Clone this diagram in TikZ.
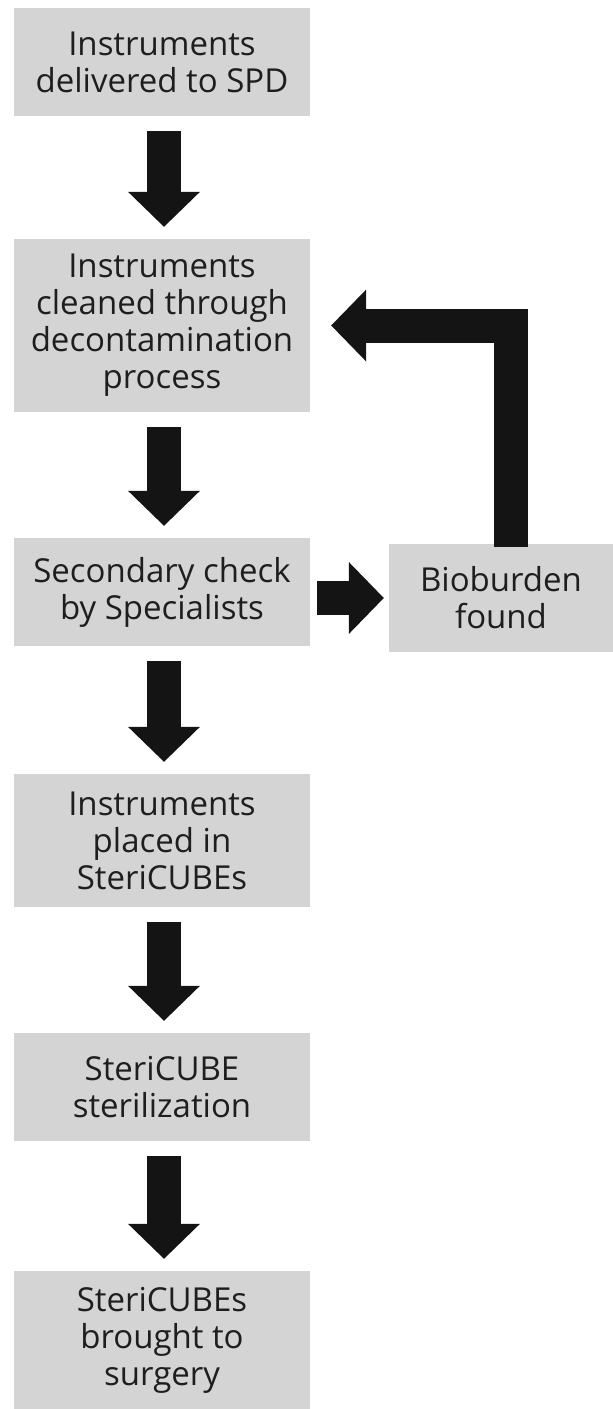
\documentclass[tikz,border=0pt]{standalone}
\usepackage{fontspec}
\setmainfont{Open Sans}
\usetikzlibrary{arrows.meta}
\definecolor{boxgray}{HTML}{D4D4D4}
\definecolor{arrowblack}{HTML}{141414}
\definecolor{textblack}{HTML}{1E1E1E}

\begin{document}
\begin{tikzpicture}[x=1pt,y=-1pt,
    box/.style={fill=boxgray, text=textblack, minimum width=296pt, align=center,
        inner sep=0pt, font=\fontsize{33}{37}\selectfont},
    flow/.style={draw=arrowblack, line width=34pt,
        -{Triangle[width=72pt,length=35pt,line width=0pt]},
        shorten <=15pt, shorten >=12pt}]
\useasboundingbox (0,0) rectangle (613,1409);
% steps
\node[box, minimum height=108pt] (D) at (162,62) {Instruments\\delivered to SPD};
\node[box, minimum height=173pt] (C) at (162,325.5) {Instruments\\cleaned through\\decontamination\\process};
\node[box, minimum height=108pt] (S) at (162,592) {Secondary check\\by Specialists};
\node[box, minimum height=133pt] (P) at (162,840.5) {Instruments\\placed in\\SteriCUBEs};
\node[box, minimum height=108pt] (T) at (162,1087) {SteriCUBE\\sterilization};
\node[box, minimum height=138pt] (G) at (162,1340) {SteriCUBEs\\brought to\\surgery};
\node[box, minimum height=108pt, minimum width=224pt] (B) at (501,598) {Bioburden\\found};
% arrows
\draw[flow] ([xshift=2pt]D.south) -- ([xshift=2pt]C.north);
\draw[flow] ([xshift=2pt]C.south) -- ([xshift=2pt]S.north);
\draw[flow] ([xshift=2pt]S.south) -- ([xshift=2pt]P.north);
\draw[flow] ([xshift=2pt]P.south) -- ([xshift=2pt]T.north);
\draw[flow] ([xshift=2pt]T.south) -- ([xshift=2pt]G.north);
\draw[flow, shorten <=7pt, shorten >=5pt] (S.east |- B.west) -- (B.west);
\draw[flow, shorten <=-3pt, shorten >=21pt] ([xshift=9.5pt]B.north) |- (C.east);
\end{tikzpicture}
\end{document}
